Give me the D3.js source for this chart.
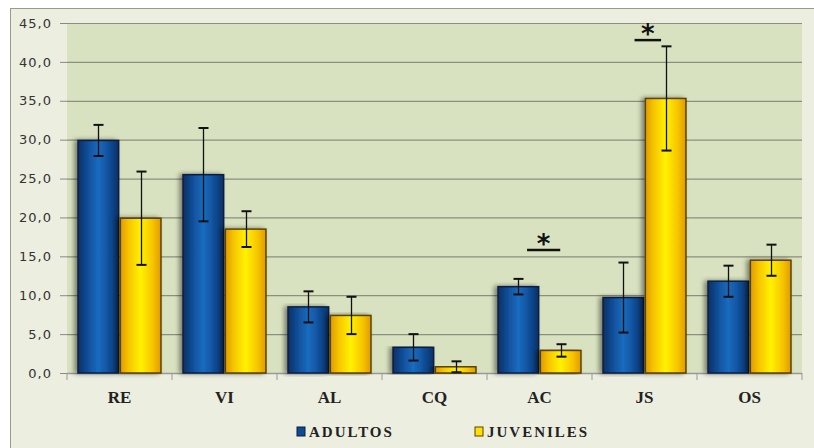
<!DOCTYPE html>
<html><head><meta charset="utf-8">
<script src="https://cdn.jsdelivr.net/npm/d3@7/dist/d3.min.js"></script>
<style>body{margin:0;background:#fff}svg{display:block}</style>
</head><body><svg id="c" width="814" height="448"></svg>
<script>
const categories = ["RE","VI","AL","CQ","AC","JS","OS"];
const seriesNames = ["ADULTOS","JUVENILES"];
const adultos = [29.9, 25.5, 8.5, 3.3, 11.1, 9.7, 11.8];
const adultosErr = [2.0, 6.0, 2.0, 1.7, 1.0, 4.5, 2.0];
const juveniles = [19.9, 18.5, 7.4, 0.8, 2.9, 35.3, 14.5];
const juvenilesErr = [6.0, 2.3, 2.4, 0.7, 0.8, 6.7, 2.0];
const yTicks = [0,5,10,15,20,25,30,35,40,45];
const signif = [{cat:"AC", y:15.8, from:0.35, to:0.75},{cat:"JS", y:42.8, from:0.38, to:0.70}];

const svg = d3.select("#c");
const defs = svg.append("defs");
function grad(id, stops){
  const g = defs.append("linearGradient").attr("id",id).attr("x1","0").attr("x2","1").attr("y1","0").attr("y2","0");
  stops.forEach(s=>g.append("stop").attr("offset",s[0]).attr("stop-color",s[1]));
}
grad("gb",[[0,"#0b2f63"],[0.2,"#0f4a92"],[0.5,"#1a6cc0"],[0.8,"#0f4a92"],[1,"#0b2f63"]]);
grad("gy",[[0,"#e09a00"],[0.2,"#f6c400"],[0.5,"#fff200"],[0.8,"#f6c400"],[1,"#e09a00"]]);
const f = defs.append("filter").attr("id","sh").attr("x","-30%").attr("width","150%").attr("y","-5%").attr("height","110%");
f.append("feGaussianBlur").attr("in","SourceAlpha").attr("stdDeviation",2.5);
f.append("feOffset").attr("dx",-3).attr("dy",0).attr("result","b");
f.append("feComponentTransfer").append("feFuncA").attr("type","linear").attr("slope",0.45);
const m = f.append("feMerge"); m.append("feMergeNode"); m.append("feMergeNode").attr("in","SourceGraphic");

// outer chart area
svg.append("rect").attr("x",10.5).attr("y",8.5).attr("width",810).attr("height",450)
  .attr("fill","#eceee0").attr("stroke","#9a9a8a");

const L=67, R=802, T=23, B=373;
const x = d3.scaleBand().domain(categories).range([L,R]).paddingInner(0.21).paddingOuter(0.105);
const xs = d3.scaleBand().domain(seriesNames).range([0,x.bandwidth()]).paddingInner(0.04);
const y = d3.scaleLinear().domain([0,45]).range([B,T]);

svg.append("rect").attr("x",L).attr("y",T).attr("width",R-L).attr("height",B-T).attr("fill","#d9e2c0");
svg.append("g").selectAll("line").data(yTicks.filter(d=>d>0)).join("line")
  .attr("x1",L).attr("x2",R).attr("y1",d=>y(d)+0.5).attr("y2",d=>y(d)+0.5)
  .attr("stroke","#8c8e7e").attr("stroke-width",1.2);

// y axis
const ya = svg.append("g").attr("transform",`translate(${L},0)`)
  .call(d3.axisLeft(y).tickValues(yTicks).tickSize(7).tickPadding(8).tickFormat(d=>d3.format(".1f")(d).replace(".",",")));
ya.select(".domain").remove();
ya.selectAll("line").attr("stroke","#888");
ya.selectAll("text").attr("font-family","DejaVu Sans, Verdana, sans-serif").attr("font-size",13).attr("letter-spacing",1).attr("fill","#333");

// x axis
svg.append("line").attr("x1",L).attr("x2",R).attr("y1",B+0.5).attr("y2",B+0.5).attr("stroke","#999").attr("stroke-width",1.5);
const step = x.step();
svg.append("g").selectAll("line").data(d3.range(categories.length+1)).join("line")
  .attr("x1",i=>L+i*step).attr("x2",i=>L+i*step).attr("y1",B).attr("y2",B+7).attr("stroke","#999");
svg.append("g").selectAll("text").data(categories).join("text")
  .attr("x",d=>x(d)+x.bandwidth()/2).attr("y",B+30).attr("text-anchor","middle")
  .attr("font-family","Liberation Serif, Times New Roman, serif").attr("font-weight","bold").attr("font-size",17).attr("fill","#222")
  .text(d=>d);

const data = [];
categories.forEach((c,i)=>{
  data.push({c, s:"ADULTOS", v:adultos[i], e:adultosErr[i], fill:"url(#gb)", st:"#0a1f40"});
  data.push({c, s:"JUVENILES", v:juveniles[i], e:juvenilesErr[i], fill:"url(#gy)", st:"#5a4200"});
});
svg.append("g").selectAll("rect").data(data).join("rect")
  .attr("x",d=>x(d.c)+xs(d.s)).attr("width",xs.bandwidth())
  .attr("y",d=>y(d.v)).attr("height",d=>y(0)-y(d.v))
  .attr("fill",d=>d.fill).attr("stroke",d=>d.st).attr("stroke-width",1.5).attr("filter","url(#sh)");

const eg = svg.append("g").attr("stroke","#111").attr("stroke-width",1.3);
data.forEach(d=>{
  const cx = Math.round(x(d.c)+xs(d.s)+xs.bandwidth()/2)+0.5;
  eg.append("line").attr("x1",cx).attr("x2",cx).attr("y1",y(d.v+d.e)).attr("y2",y(d.v-d.e));
  [d.v+d.e,d.v-d.e].forEach(v=>eg.append("line").attr("x1",cx-5).attr("x2",cx+5).attr("y1",y(v)).attr("y2",y(v)).attr("stroke-width",2));
});

signif.forEach(s=>{
  const x0 = x(s.cat)+x.bandwidth()*s.from, x1 = x(s.cat)+x.bandwidth()*s.to;
  svg.append("line").attr("x1",x0).attr("x2",x1).attr("y1",y(s.y)).attr("y2",y(s.y)).attr("stroke","#111").attr("stroke-width",2.5);
  svg.append("text").attr("x",(x0+x1)/2).attr("y",y(s.y)+3).attr("text-anchor","middle")
    .attr("font-family","DejaVu Sans, sans-serif").attr("font-weight","bold").attr("font-size",26).attr("fill","#111").text("*");
});

// legend
const leg = [{n:"ADULTOS", x:297, c:"#0f4a92", s:"#0a1f40"},{n:"JUVENILES", x:475, c:"#ffe000", s:"#5a4200"}];
leg.forEach(l=>{
  svg.append("rect").attr("x",l.x).attr("y",427).attr("width",8).attr("height",9).attr("fill",l.c).attr("stroke",l.s);
  svg.append("text").attr("x",l.x+12).attr("y",437).attr("font-family","Liberation Serif, serif").attr("font-weight","bold")
    .attr("font-size",15).attr("letter-spacing",2).attr("fill","#222").text(l.n);
});
</script></body></html>
